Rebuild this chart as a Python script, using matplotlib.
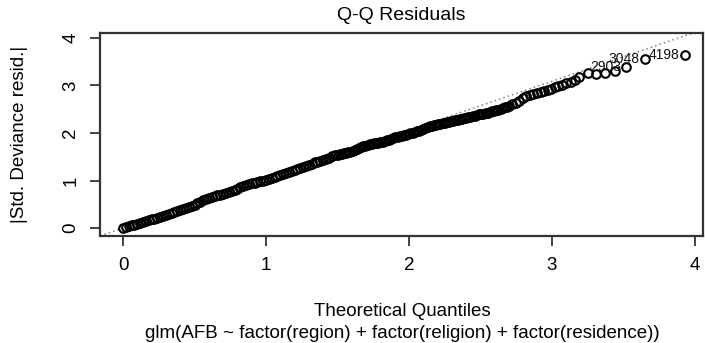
import matplotlib
matplotlib.use("Agg")
import matplotlib.pyplot as plt

# theoretical quantiles and |std. deviance residuals|
# lower part of the band
theo_lo = [0.00, 0.02, 0.04, 0.06, 0.08, 0.10, 0.12, 0.14, 0.16, 0.18,
           0.20, 0.22, 0.24, 0.26, 0.28, 0.30, 0.32, 0.34, 0.36, 0.38,
           0.40, 0.42, 0.44, 0.46, 0.48, 0.50, 0.52, 0.54, 0.56, 0.58,
           0.60, 0.62, 0.64, 0.66, 0.68, 0.70, 0.72, 0.74, 0.76, 0.78,
           0.80, 0.82, 0.84, 0.86, 0.88, 0.90, 0.92, 0.94, 0.96, 0.98,
           1.00, 1.02, 1.04, 1.06, 1.08, 1.10, 1.12, 1.14, 1.16, 1.18,
           1.20, 1.22, 1.24, 1.26, 1.28, 1.30, 1.32, 1.34, 1.36, 1.38,
           1.40, 1.42, 1.44, 1.46, 1.48]
resid_lo = [0.00, 0.02, 0.04, 0.06, 0.07, 0.09, 0.11, 0.13, 0.15, 0.17,
            0.19, 0.20, 0.22, 0.24, 0.26, 0.28, 0.30, 0.32, 0.34, 0.35,
            0.37, 0.39, 0.42, 0.44, 0.46, 0.49, 0.52, 0.55, 0.58, 0.61,
            0.63, 0.65, 0.67, 0.69, 0.70, 0.72, 0.74, 0.76, 0.78, 0.80,
            0.83, 0.86, 0.88, 0.91, 0.93, 0.94, 0.95, 0.97, 0.98, 1.00,
            1.01, 1.03, 1.05, 1.07, 1.09, 1.11, 1.13, 1.16, 1.18, 1.20,
            1.22, 1.24, 1.27, 1.29, 1.31, 1.33, 1.35, 1.38, 1.40, 1.42,
            1.44, 1.46, 1.48, 1.51, 1.53]

# middle part (denser in the picture)
theo_mid = [1.500, 1.515, 1.530, 1.545, 1.560, 1.575, 1.590, 1.605, 1.620, 1.635,
            1.650, 1.665, 1.680, 1.695, 1.710, 1.725, 1.740, 1.755, 1.770, 1.785,
            1.800, 1.815, 1.830, 1.845, 1.860, 1.875, 1.890, 1.905, 1.920, 1.935,
            1.950, 1.965, 1.980, 1.995, 2.010, 2.025, 2.040, 2.055, 2.070, 2.085,
            2.100, 2.115, 2.130, 2.145, 2.160, 2.175, 2.190, 2.205, 2.220, 2.235,
            2.250, 2.265, 2.280, 2.295, 2.310, 2.325, 2.340, 2.355, 2.370, 2.385,
            2.400, 2.415, 2.430, 2.445, 2.460, 2.475, 2.490, 2.505, 2.520, 2.535,
            2.550, 2.565, 2.580, 2.595, 2.610, 2.625, 2.640, 2.655, 2.670, 2.685,
            2.700]
resid_mid = [1.54, 1.55, 1.56, 1.57, 1.58, 1.59, 1.61, 1.63, 1.65, 1.67,
             1.69, 1.71, 1.72, 1.73, 1.74, 1.76, 1.77, 1.78, 1.79, 1.80,
             1.81, 1.82, 1.83, 1.85, 1.86, 1.88, 1.89, 1.91, 1.92, 1.93,
             1.94, 1.95, 1.96, 1.98, 1.99, 2.01, 2.02, 2.04, 2.05, 2.07,
             2.09, 2.11, 2.13, 2.14, 2.15, 2.16, 2.17, 2.18, 2.19, 2.21,
             2.22, 2.23, 2.24, 2.25, 2.26, 2.27, 2.28, 2.29, 2.30, 2.31,
             2.32, 2.33, 2.34, 2.35, 2.36, 2.38, 2.39, 2.40, 2.41, 2.42,
             2.43, 2.44, 2.46, 2.47, 2.48, 2.49, 2.51, 2.52, 2.54, 2.55,
             2.57]

# upper tail, the last three are the labelled observations
theo_hi = [2.720, 2.745, 2.770, 2.795, 2.820, 2.845, 2.870, 2.895, 2.920, 2.945,
           2.970, 2.995, 3.020, 3.045, 3.070, 3.100, 3.130, 3.160, 3.190, 3.250,
           3.310, 3.370, 3.440, 3.520, 3.650, 3.930]
resid_hi = [2.60, 2.63, 2.68, 2.73, 2.77, 2.80, 2.82, 2.84, 2.87, 2.89,
            2.90, 2.93, 2.96, 2.99, 3.02, 3.05, 3.08, 3.12, 3.17, 3.26,
            3.24, 3.26, 3.31, 3.39, 3.56, 3.64]

label_txt = ["2903", "3048", "4198"]

# reference line
qq_intercept = 0.0
qq_slope = 1.03

x_ticks = [0, 1, 2, 3, 4]
y_ticks = [0, 1, 2, 3, 4]

title_txt = "Q-Q Residuals"
xlab_txt = "Theoretical Quantiles"
sub_txt = "glm(AFB ~ factor(region) + factor(religion) + factor(residence))"
ylab_txt = "|Std. Deviance resid.|"


def main():
    plt.rcParams['font.family'] = ['Liberation Sans', 'DejaVu Sans']

    theo_q = theo_lo + theo_mid + theo_hi
    abs_resid = resid_lo + resid_mid + resid_hi
    n = len(theo_q)
    label_idx = [n - 3, n - 2, n - 1]

    W, H = 705, 343
    fig = plt.figure(figsize=(W / 100, H / 100), dpi=100)
    ax = fig.add_axes([100 / W, 1 - 236 / H, 603 / W, 203 / H])

    axis_col = '#333333'

    ax.axline((0, qq_intercept), slope=qq_slope, color='#808080',
              linestyle=(0, (1, 2)), linewidth=1.1, zorder=1)

    ax.plot(theo_q, abs_resid, linestyle='none', marker='o', markersize=6.2,
            markerfacecolor='none', markeredgecolor='black', markeredgewidth=1.5,
            zorder=2)

    for i, t in zip(label_idx, label_txt):
        ax.annotate(t, (theo_q[i], abs_resid[i]), xytext=(-4, 0),
                    textcoords='offset points', ha='right', va='center',
                    fontsize=10, color='#111111')

    ax.set_xlim(-0.161, 4.056)
    ax.set_ylim(-0.168, 4.105)
    ax.set_xticks(x_ticks)
    ax.set_yticks(y_ticks)
    ax.set_yticklabels([str(v) for v in y_ticks], rotation=90, va='center')

    for s in ax.spines.values():
        s.set_color(axis_col)
        s.set_linewidth(1.6)
    ax.tick_params(axis='both', length=7, width=1.3, color=axis_col,
                   labelsize=13.5, pad=8)

    fig.text(401 / W, 1 - 15 / H, title_txt, ha='center', va='center', fontsize=14)
    fig.text(402 / W, 1 - 312 / H, xlab_txt, ha='center', va='center', fontsize=13.5)
    fig.text(402 / W, 1 - 333 / H, sub_txt, ha='center', va='center', fontsize=13.5)
    fig.text(20 / W, 1 - 134 / H, ylab_txt, ha='center', va='center',
             rotation=90, fontsize=13.5)

    fig.savefig('out.png', dpi=100)


if __name__ == "__main__":
    main()
